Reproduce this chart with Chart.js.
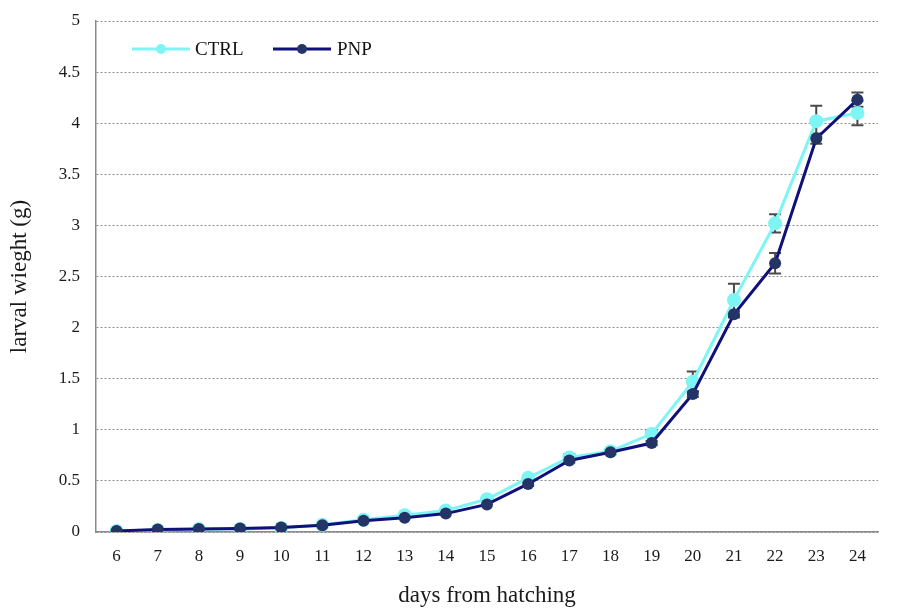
<!DOCTYPE html>
<html>
<head>
<meta charset="utf-8">
<script src="https://cdn.jsdelivr.net/npm/chart.js@4.4.1/dist/chart.umd.min.js"></script>
<style>
  html, body { margin: 0; padding: 0; background: #ffffff; }
  #wrap { width: 906px; height: 609px; }
</style>
</head>
<body>
<div id="wrap"><canvas id="chart" width="906" height="609"></canvas></div>
<script>
// Larval weight over days from hatching, control vs PNP
const days = ['6','7','8','9','10','11','12','13','14','15','16','17','18','19','20','21','22','23','24'];
const ctrlWeight = [0.01, 0.02, 0.03, 0.03, 0.04, 0.07, 0.12, 0.165, 0.21, 0.32, 0.53, 0.73, 0.79, 0.96, 1.47, 2.27, 3.02, 4.02, 4.10];
const ctrlError  = [0.005, 0.005, 0.005, 0.005, 0.01, 0.01, 0.01, 0.01, 0.015, 0.02, 0.02, 0.03, 0.02, 0.03, 0.10, 0.16, 0.09, 0.15, 0.12];
const pnpWeight  = [0.01, 0.025, 0.03, 0.035, 0.045, 0.065, 0.11, 0.14, 0.18, 0.27, 0.47, 0.70, 0.78, 0.87, 1.35, 2.13, 2.63, 3.85, 4.23];
const pnpError   = [0.005, 0.005, 0.005, 0.005, 0.005, 0.01, 0.01, 0.01, 0.01, 0.01, 0.02, 0.02, 0.02, 0.02, 0.03, 0.03, 0.10, 0.05, 0.07];
const yTicks = [0, 0.5, 1, 1.5, 2, 2.5, 3, 3.5, 4, 4.5, 5];

const SERIF = "'Liberation Serif', 'Times New Roman', serif";
const CTRL_COLOR = '#7ef5f5';
const PNP_LINE = '#10107a';
const PNP_POINT = '#243466';

// Error bars drawn under the series markers
const errorBars = {
  id: 'errorBars',
  beforeDatasetsDraw(chart) {
    const ctx = chart.ctx;
    const x = chart.scales.x, y = chart.scales.y;
    const sets = [[ctrlWeight, ctrlError], [pnpWeight, pnpError]];
    ctx.save();
    ctx.strokeStyle = '#4a4a4a';
    ctx.lineWidth = 2;
    sets.forEach(([vals, errs]) => {
      vals.forEach((v, i) => {
        const px = x.getPixelForValue(i);
        const top = y.getPixelForValue(v + errs[i]);
        const bot = y.getPixelForValue(v - errs[i]);
        if (bot - top < 3) return;
        ctx.beginPath();
        ctx.moveTo(px, top); ctx.lineTo(px, bot);
        ctx.moveTo(px - 6, top); ctx.lineTo(px + 6, top);
        ctx.moveTo(px - 6, bot); ctx.lineTo(px + 6, bot);
        ctx.stroke();
      });
    });
    ctx.restore();
  }
};

// Legend inside the plot area: line segment with marker, then label
const insideLegend = {
  id: 'insideLegend',
  afterDraw(chart) {
    const ctx = chart.ctx;
    const items = [
      { label: 'CTRL', line: CTRL_COLOR, point: CTRL_COLOR, x0: 132, x1: 190, tx: 195 },
      { label: 'PNP', line: PNP_LINE, point: PNP_POINT, x0: 273, x1: 331, tx: 337 }
    ];
    const yc = 49;
    ctx.save();
    items.forEach(it => {
      ctx.strokeStyle = it.line;
      ctx.lineWidth = 3;
      ctx.beginPath();
      ctx.moveTo(it.x0, yc); ctx.lineTo(it.x1, yc);
      ctx.stroke();
      ctx.fillStyle = it.point;
      ctx.beginPath();
      ctx.arc((it.x0 + it.x1) / 2, yc, 5, 0, Math.PI * 2);
      ctx.fill();
      ctx.fillStyle = '#111111';
      ctx.font = '19px ' + SERIF;
      ctx.textBaseline = 'middle';
      ctx.textAlign = 'left';
      ctx.fillText(it.label, it.tx, yc + 1);
    });
    ctx.restore();
  }
};

new Chart(document.getElementById('chart'), {
  type: 'line',
  data: {
    labels: days,
    datasets: [
      {
        label: 'CTRL',
        data: ctrlWeight,
        borderColor: CTRL_COLOR,
        backgroundColor: CTRL_COLOR,
        pointBackgroundColor: CTRL_COLOR,
        pointBorderColor: CTRL_COLOR,
        borderWidth: 3,
        pointRadius: 7,
        pointBorderWidth: 0,
        tension: 0,
        order: 2
      },
      {
        label: 'PNP',
        data: pnpWeight,
        borderColor: PNP_LINE,
        backgroundColor: PNP_POINT,
        pointBackgroundColor: PNP_POINT,
        pointBorderColor: PNP_POINT,
        borderWidth: 3,
        pointRadius: 6,
        pointBorderWidth: 0,
        tension: 0,
        order: 1
      }
    ]
  },
  options: {
    responsive: false,
    animation: false,
    layout: { padding: { top: 21, right: 28, left: 0, bottom: 0 } },
    plugins: {
      legend: { display: false },
      tooltip: { enabled: false }
    },
    scales: {
      x: {
        offset: true,
        grid: { display: false, drawTicks: false },
        border: { display: true, color: '#8a8a8a', width: 1.5 },
        ticks: {
          color: '#1a1a1a',
          font: { family: SERIF, size: 17 },
          padding: 14,
          maxRotation: 0,
          autoSkip: false
        },
        title: {
          display: true,
          text: 'days from hatching',
          color: '#1a1a1a',
          font: { family: SERIF, size: 23, lineHeight: 1 },
          padding: { top: 0, bottom: 2 }
        },
        afterFit(axis) { axis.height = 77; }
      },
      y: {
        min: 0,
        max: 5,
        afterBuildTicks(axis) { axis.ticks = yTicks.map(v => ({ value: v })); },
        grid: {
          color: '#8c8c8c',
          lineWidth: 1,
          drawTicks: false
        },
        border: { display: true, color: '#8a8a8a', width: 1.5, dash: [2, 2] },
        ticks: {
          color: '#1a1a1a',
          font: { family: SERIF, size: 17, lineHeight: 0.5 },
          padding: 16,
          callback: v => String(v)
        },
        title: {
          display: true,
          text: 'larval wieght (g)',
          color: '#1a1a1a',
          font: { family: SERIF, size: 23, lineHeight: 1 },
          padding: { top: 8, bottom: 0 }
        },
        afterFit(axis) { axis.width = 96; }
      }
    }
  },
  plugins: [errorBars, insideLegend]
});
</script>
</body>
</html>
